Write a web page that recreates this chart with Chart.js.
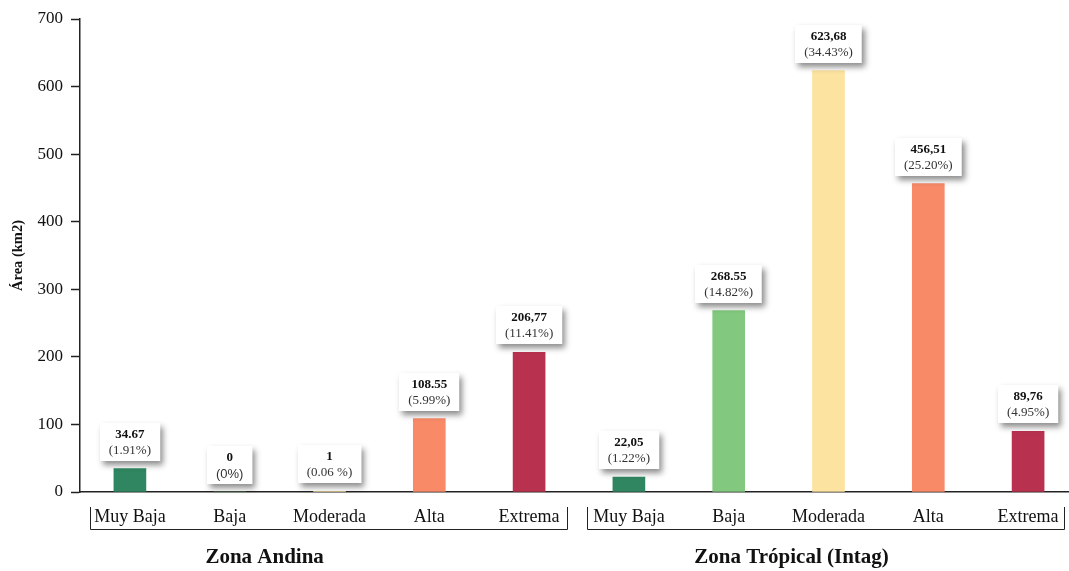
<!DOCTYPE html>
<html>
<head>
<meta charset="utf-8">
<script src="https://cdn.jsdelivr.net/npm/chart.js@4.4.1/dist/chart.umd.min.js"></script>
<style>
  html, body { margin: 0; padding: 0; background: #fff; overflow: hidden; }
  #wrap { width: 1080px; height: 571px; position: relative; }
</style>
</head>
<body>
<div id="wrap"><canvas id="grafico"></canvas></div>
<script>
const categorias = ['Muy Baja', 'Baja', 'Moderada', 'Alta', 'Extrema', 'Muy Baja', 'Baja', 'Moderada', 'Alta', 'Extrema'];
const areas = [34.67, 0, 1, 108.55, 206.77, 22.05, 268.55, 623.68, 456.51, 89.76];
const separadores = ['.', '.', '.', '.', ',', ',', '.', ',', ',', ','];
const porcentajes = ['(1.91%)', '(0%)', '(0.06 %)', '(5.99%)', '(11.41%)', '(1.22%)', '(14.82%)', '(34.43%)', '(25.20%)', '(4.95%)'];
const colores = ['#2f8660', '#82c97f', '#fde3a0', '#f88a68', '#b83250', '#2f8660', '#82c97f', '#fde3a0', '#f88a68', '#b83250'];
const zonas = ['Zona Andina', 'Zona Trópical (Intag)'];
const zonaInicio = [0, 5];
const zonaFin = [4, 9];
const zonaCentro = [1.35, 6.63]; // posición del título en unidades de categoría
const yMax = 700;
const yPaso = 100;

const serif = '"Liberation Serif", "Times New Roman", serif';

function textoArea(i) {
  const v = areas[i];
  if (Number.isInteger(v)) return String(v);
  return v.toFixed(2).replace('.', separadores[i]);
}

// cajita blanca con sombra encima de cada barra
const etiquetas = {
  id: 'etiquetas',
  afterDatasetsDraw(chart) {
    const ctx = chart.ctx;
    const meta = chart.getDatasetMeta(0);
    meta.data.forEach((bar, i) => {
      const t1 = textoArea(i);
      const t2 = porcentajes[i];
      const f2 = t2 === '(0%)' ? '13px "Liberation Sans", Arial, sans-serif' : '13px ' + serif;
      ctx.save();
      ctx.font = 'bold 13px ' + serif;
      const w1 = ctx.measureText(t1).width;
      ctx.font = f2;
      const w2 = ctx.measureText(t2).width;
      const w = Math.max(w1, w2) + 18;
      const h = 38;
      const x = Math.round(bar.x - w / 2);
      const y = Math.round(bar.y - 8 - h);
      ctx.shadowColor = 'rgba(0,0,0,0.45)';
      ctx.shadowBlur = 6;
      ctx.shadowOffsetX = 3;
      ctx.shadowOffsetY = 4;
      ctx.fillStyle = '#fff';
      ctx.fillRect(x, y, w, h);
      ctx.restore();

      ctx.save();
      ctx.textAlign = 'center';
      ctx.textBaseline = 'middle';
      ctx.fillStyle = '#111';
      ctx.font = 'bold 13px ' + serif;
      ctx.fillText(t1, bar.x, y + 12);
      ctx.fillStyle = '#333';
      ctx.font = f2;
      ctx.fillText(t2, bar.x, y + 28);
      ctx.restore();
    });
  }
};

// corchetes y nombres de zona bajo el eje x
const zonasPlugin = {
  id: 'zonas',
  afterDraw(chart) {
    const ctx = chart.ctx;
    const xs = chart.scales.x;
    const x00 = xs.getPixelForValue(0);
    const paso = xs.getPixelForValue(1) - x00;
    ctx.save();
    ctx.strokeStyle = '#222';
    ctx.lineWidth = 1;
    zonas.forEach((z, k) => {
      const x0 = Math.round(xs.getPixelForValue(zonaInicio[k]) - paso / 2 + (k ? 8 : 10)) + 0.5;
      const x1 = Math.round(xs.getPixelForValue(zonaFin[k]) + paso / 2 - (k ? 14 : 12)) + 0.5;
      ctx.beginPath();
      ctx.moveTo(x0, 507);
      ctx.lineTo(x0, 529.5);
      ctx.lineTo(x1, 529.5);
      ctx.lineTo(x1, 507);
      ctx.stroke();
      ctx.fillStyle = '#111';
      ctx.font = 'bold 21px ' + serif;
      ctx.textAlign = 'center';
      ctx.textBaseline = 'middle';
      ctx.fillText(z, x00 + zonaCentro[k] * paso, 558);
    });
    ctx.restore();
  }
};

new Chart(document.getElementById('grafico'), {
  type: 'bar',
  data: {
    labels: categorias,
    datasets: [{
      data: areas,
      backgroundColor: colores,
      barThickness: 32,
      borderWidth: 0
    }]
  },
  options: {
    responsive: true,
    maintainAspectRatio: false,
    animation: false,
    layout: { padding: { top: 19, right: 2, left: 0, bottom: 0 } },
    plugins: {
      legend: { display: false },
      tooltip: { enabled: false }
    },
    scales: {
      x: {
        grid: { display: false, drawTicks: false },
        border: { color: '#222', width: 1.5 },
        ticks: {
          padding: 14,
          color: '#111',
          font: { family: serif, size: 18 }
        },
        afterFit(s) { s.height = 79; }
      },
      y: {
        min: 0,
        max: yMax,
        grid: { display: true, drawOnChartArea: false, drawTicks: true, tickLength: 9, tickColor: '#222', tickWidth: 1.5 },
        border: { color: '#222', width: 1.5 },
        ticks: {
          stepSize: yPaso,
          padding: 8,
          color: '#111',
          font: { family: serif, size: 17 }
        },
        title: {
          display: true,
          text: 'Área (km2)',
          color: '#111',
          font: { family: serif, size: 14.5, weight: 'bold' },
          padding: { top: 10, bottom: 0 }
        },
        afterFit(s) { s.width = 80; }
      }
    }
  },
  plugins: [etiquetas, zonasPlugin]
});
</script>
</body>
</html>
